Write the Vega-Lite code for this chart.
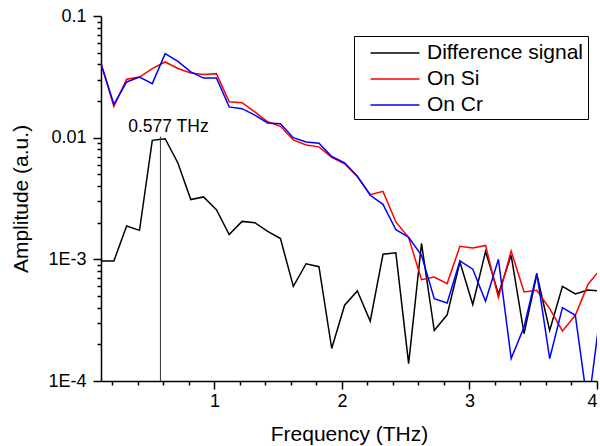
{
  "$schema": "https://vega.github.io/schema/vega-lite/v6.json",
  "width": 496,
  "height": 365,
  "autosize": {"type": "none"},
  "padding": {"left": 101, "top": 16, "right": 3, "bottom": 65},
  "background": "white",
  "config": {
    "view": {"stroke": null},
    "font": "Liberation Sans",
    "axis": {
      "domainColor": "black", "domainWidth": 1.5, "tickColor": "black", "tickWidth": 1.5,
      "labelColor": "black", "labelFont": "Liberation Sans", "labelFontSize": 18,
      "titleColor": "black", "titleFont": "Liberation Sans", "titleFontSize": 21, "titleFontWeight": "normal",
      "grid": false
    }
  },
  "datasets": {
    "spectra": [
      {"f": 0.111, "d": 0.00097, "si": 0.0406, "cr": 0.0406},
      {"f": 0.212, "d": 0.00097, "si": 0.0181, "cr": 0.0188},
      {"f": 0.312, "d": 0.00188, "si": 0.0302, "cr": 0.0287},
      {"f": 0.413, "d": 0.00173, "si": 0.0315, "cr": 0.0315},
      {"f": 0.513, "d": 0.0095, "si": 0.0370, "cr": 0.0278},
      {"f": 0.614, "d": 0.0098, "si": 0.0419, "cr": 0.0491},
      {"f": 0.714, "d": 0.0062, "si": 0.0370, "cr": 0.0424},
      {"f": 0.815, "d": 0.0031, "si": 0.0340, "cr": 0.0347},
      {"f": 0.915, "d": 0.00326, "si": 0.0330, "cr": 0.0309},
      {"f": 1.016, "d": 0.00256, "si": 0.0336, "cr": 0.0309},
      {"f": 1.116, "d": 0.0016, "si": 0.0197, "cr": 0.0179},
      {"f": 1.217, "d": 0.00205, "si": 0.0194, "cr": 0.0173},
      {"f": 1.317, "d": 0.0020, "si": 0.0163, "cr": 0.0153},
      {"f": 1.418, "d": 0.0017, "si": 0.0135, "cr": 0.0132},
      {"f": 1.518, "d": 0.00148, "si": 0.0124, "cr": 0.0130},
      {"f": 1.619, "d": 0.0006, "si": 0.0096, "cr": 0.0100},
      {"f": 1.719, "d": 0.00092, "si": 0.0087, "cr": 0.0092},
      {"f": 1.820, "d": 0.00087, "si": 0.0084, "cr": 0.0090},
      {"f": 1.920, "d": 0.000185, "si": 0.0069, "cr": 0.0070},
      {"f": 2.021, "d": 0.00042, "si": 0.0061, "cr": 0.0062},
      {"f": 2.121, "d": 0.00055, "si": 0.0048, "cr": 0.00481},
      {"f": 2.222, "d": 0.00031, "si": 0.00340, "cr": 0.00336},
      {"f": 2.322, "d": 0.0011, "si": 0.00362, "cr": 0.00283},
      {"f": 2.423, "d": 0.00113, "si": 0.00203, "cr": 0.00175},
      {"f": 2.523, "d": 0.000139, "si": 0.00151, "cr": 0.00152},
      {"f": 2.624, "d": 0.00135, "si": 0.00068, "cr": 0.00108},
      {"f": 2.724, "d": 0.00026, "si": 0.000716, "cr": 0.000475},
      {"f": 2.825, "d": 0.00035, "si": 0.000632, "cr": 0.000438},
      {"f": 2.925, "d": 0.00095, "si": 0.00128, "cr": 0.00097},
      {"f": 3.026, "d": 0.000425, "si": 0.00124, "cr": 0.00083},
      {"f": 3.126, "d": 0.00116, "si": 0.00130, "cr": 0.000452},
      {"f": 3.227, "d": 0.00052, "si": 0.000485, "cr": 0.00100},
      {"f": 3.327, "d": 0.00108, "si": 0.00117, "cr": 0.000153},
      {"f": 3.428, "d": 0.000245, "si": 0.00054, "cr": 0.000278},
      {"f": 3.528, "d": 0.00075, "si": 0.000557, "cr": 0.00077},
      {"f": 3.629, "d": 0.00026, "si": 0.000394, "cr": 0.000153},
      {"f": 3.729, "d": 0.0006, "si": 0.000258, "cr": 0.000401},
      {"f": 3.830, "d": 0.00052, "si": 0.000347, "cr": 0.000347},
      {"f": 3.930, "d": 0.00056, "si": 0.000624, "cr": 0.00006},
      {"f": 4.031, "d": 0.00055, "si": 0.00084, "cr": 0.0004}
    ],
    "peak": [{"f": 0.577, "top": 0.0102, "bottom": 0.0001, "labelY": 0.0111, "label": "0.577 THz"}]
  },
  "resolve": {"axis": {"x": "independent", "y": "independent"}},
  "layer": [
    {
      "data": {"name": "spectra"},
      "transform": [
        {"fold": ["d", "si", "cr"], "as": ["key", "amp"]},
        {"lookup": "key", "from": {"data": {"values": [
          {"key": "d", "series": "Difference signal"},
          {"key": "si", "series": "On Si"},
          {"key": "cr", "series": "On Cr"}
        ]}, "key": "key", "fields": ["series"]}}
      ],
      "mark": {"type": "line", "strokeWidth": 1.5, "clip": true},
      "encoding": {
        "x": {"field": "f", "type": "quantitative",
          "scale": {"domain": [0.111, 4], "nice": false, "zero": false},
          "axis": {"orient": "bottom", "values": [1, 2, 3, 4], "tickSize": 8, "labelPadding": 3, "title": "Frequency (THz)", "titlePadding": 13}},
        "y": {"field": "amp", "type": "quantitative",
          "scale": {"type": "log", "domain": [0.0001, 0.1], "nice": false},
          "axis": {"orient": "left", "values": [0.0001, 0.001, 0.01, 0.1], "tickSize": 8, "labelPadding": 7,
            "labelExpr": "datum.value > 0.05 ? '0.1' : datum.value > 0.005 ? '0.01' : datum.value > 0.0005 ? '1E-3' : '1E-4'",
            "title": "Amplitude (a.u.)", "titlePadding": 16}},
        "color": {"field": "series", "type": "nominal",
          "scale": {"domain": ["Difference signal", "On Si", "On Cr"], "range": ["#000000", "#ff0000", "#0000ff"]},
          "legend": {
            "title": null, "orient": "none", "legendX": 253, "legendY": 20,
            "symbolType": "M-2,0H2", "symbolSize": 600, "symbolStrokeWidth": 1.5,
            "labelFontSize": 21, "labelFont": "Liberation Sans", "labelColor": "black", "labelOffset": 19,
            "strokeColor": "black", "fillColor": "white", "padding": 4, "symbolOffset": 24, "rowPadding": 3
          }
        },
        "order": {"field": "f", "type": "quantitative"}
      }
    },
    {
      "data": {"name": "peak"},
      "mark": {"type": "rule", "color": "#333333", "strokeWidth": 1},
      "encoding": {
        "x": {"field": "f", "type": "quantitative",
          "axis": {"orient": "bottom", "values": [0.2, 0.4, 0.6, 0.8, 1.2, 1.4, 1.6, 1.8, 2.2, 2.4, 2.6, 2.8, 3.2, 3.4, 3.6, 3.8], "tickSize": 4, "labels": false, "domain": false, "title": null}},
        "y": {"field": "top", "type": "quantitative",
          "axis": {"orient": "left", "values": [0.0002, 0.0003, 0.0004, 0.0005, 0.0006, 0.0007, 0.0008, 0.0009, 0.002, 0.003, 0.004, 0.005, 0.006, 0.007, 0.008, 0.009, 0.02, 0.03, 0.04, 0.05, 0.06, 0.07, 0.08, 0.09], "tickSize": 4, "labels": false, "domain": false, "title": null}},
        "y2": {"field": "bottom"}
      }
    },
    {
      "data": {"name": "peak"},
      "mark": {"type": "text", "fontSize": 17.5, "font": "Liberation Sans", "color": "black", "align": "center", "baseline": "alphabetic", "dx": 8},
      "encoding": {
        "x": {"field": "f", "type": "quantitative", "axis": null},
        "y": {"field": "labelY", "type": "quantitative", "axis": null},
        "text": {"field": "label"}
      }
    }
  ]
}
